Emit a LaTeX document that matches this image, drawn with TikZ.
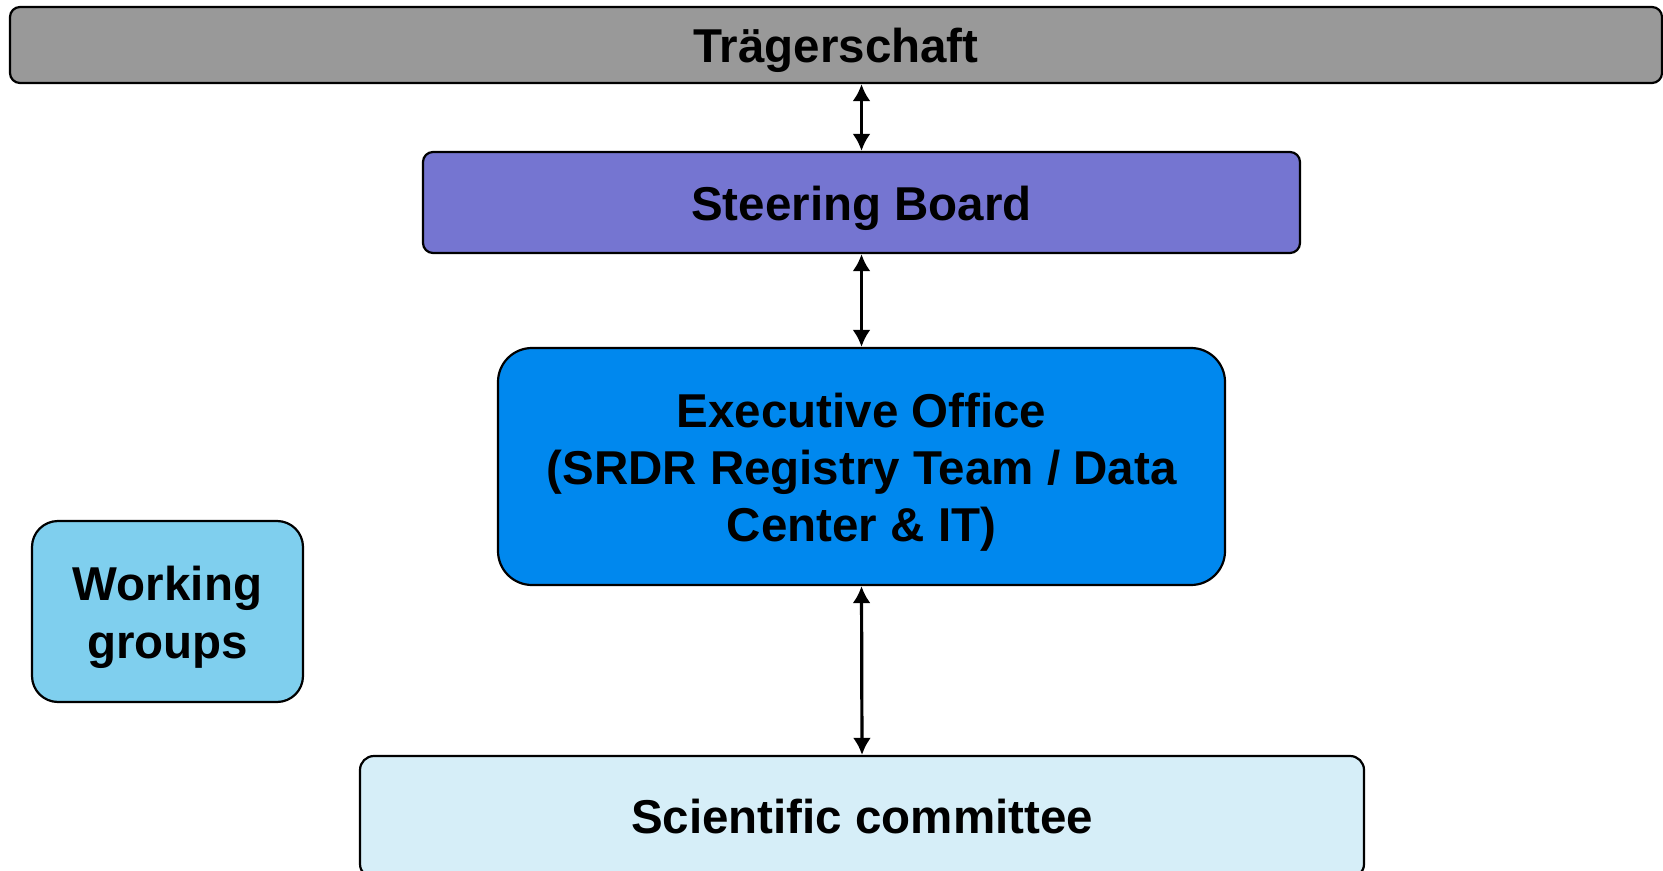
\documentclass[tikz,border=0pt]{standalone}
\usepackage{fontspec}
\setmainfont{Liberation Sans}
\usepackage{tikz}
\usetikzlibrary{arrows.meta}
\tikzset{>={Latex[length=8.5pt,width=9pt]}}
\definecolor{traegergray}{RGB}{153,153,153}
\definecolor{steerpurple}{RGB}{117,117,209}
\definecolor{execblue}{RGB}{0,136,238}
\definecolor{wgblue}{RGB}{127,207,238}
\definecolor{scilight}{RGB}{214,238,248}
\newcommand{\boxstrut}{\rule{0pt}{0.97em}}
\tikzset{
  orgbox/.style={draw=black,line width=1.1pt,align=center,inner sep=0pt,
    font=\fontsize{23.75}{28.6}\selectfont\bfseries},
  link/.style={<->,line width=1.6pt}
}

\begin{document}
\begin{tikzpicture}[x=0.5pt,y=-0.5pt]
      \useasboundingbox (0,0) rectangle (1663,871);
      \node[orgbox,fill=traegergray,rounded corners=5pt,minimum width=826pt,minimum height=38pt] (traeger) at (836,45) {\boxstrut Trägerschaft};
      \node[orgbox,fill=steerpurple,rounded corners=5pt,minimum width=438.5pt,minimum height=50.5pt] (steering) at (861.5,202.5) {\boxstrut Steering Board};
      \node[orgbox,fill=execblue,rounded corners=17pt,minimum width=363.5pt,minimum height=118.5pt] (exec) at (861.5,466.5) {\boxstrut Executive Office\\(SRDR Registry Team / Data\\Center \& IT)};
      \node[orgbox,fill=wgblue,rounded corners=13pt,minimum width=135.5pt,minimum height=90.5pt] (wg) at (167.5,611.5) {\boxstrut Working\\groups};
      \node[orgbox,fill=scilight,rounded corners=7pt,minimum width=502pt,minimum height=61pt] (sci) at (862,817) {Scientific committee};
      \draw[link] (traeger.south -| steering.north) -- (steering.north);
      \draw[link] (steering.south) -- (exec.north);
      \draw[link] (exec.south) -- (sci.north);
\end{tikzpicture}
\end{document}
